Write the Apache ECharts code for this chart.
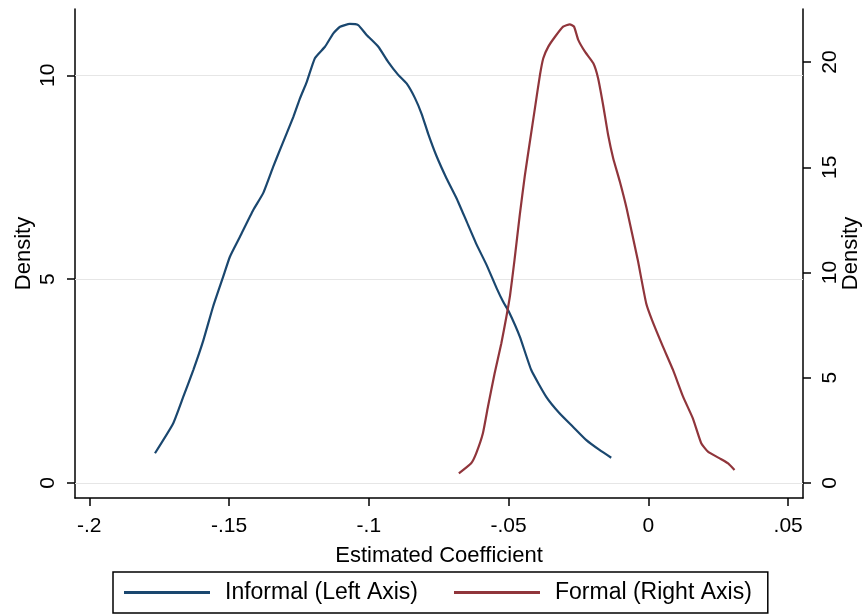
<!DOCTYPE html>
<html><head><meta charset="utf-8">
<script src="https://cdn.jsdelivr.net/npm/echarts@6/dist/echarts.min.js"></script>
<style>html,body{margin:0;padding:0;background:#fff}#c{width:866px;height:615px}</style>
</head><body><div id="c"></div>
<script>
const informalX = [-0.1765,-0.1700,-0.1664,-0.1628,-0.1592,-0.1557,-0.1521,-0.1497,-0.1461,-0.1413,-0.1378,-0.1342,-0.1318,-0.1270,-0.1246,-0.1222,-0.1193,-0.1157,-0.1127,-0.1103,-0.1068,-0.1038,-0.1008,-0.0966,-0.0931,-0.0895,-0.0865,-0.0835,-0.0811,-0.0788,-0.0758,-0.0722,-0.0686,-0.0650,-0.0614,-0.0579,-0.0543,-0.0520,-0.0499,-0.0460,-0.0419,-0.0366,-0.0318,-0.0270,-0.0222,-0.0175,-0.0133];
const informalY = [0.73,1.46,2.11,2.77,3.50,4.33,5.06,5.55,6.04,6.70,7.11,7.76,8.17,8.98,9.44,9.84,10.42,10.70,11.03,11.19,11.26,11.23,10.99,10.70,10.33,10.01,9.80,9.44,9.05,8.57,8.02,7.47,6.98,6.41,5.84,5.35,4.78,4.45,4.20,3.59,2.77,2.12,1.71,1.38,1.05,0.81,0.62];
const formalX = [-0.0678,-0.0634,-0.0616,-0.0592,-0.0574,-0.0550,-0.0526,-0.0508,-0.0495,-0.0479,-0.0460,-0.0442,-0.0424,-0.0406,-0.0388,-0.0376,-0.0358,-0.0334,-0.0305,-0.0281,-0.0266,-0.0251,-0.0227,-0.0197,-0.0180,-0.0162,-0.0144,-0.0126,-0.0102,-0.0078,-0.0038,-0.0008,0.0013,0.0052,0.0088,0.0124,0.0159,0.0189,0.0213,0.0255,0.0284,0.0308];
const formalY = [0.46,0.94,1.41,2.36,3.62,5.21,6.64,7.90,8.90,10.59,12.75,14.60,16.21,17.80,19.38,20.18,20.73,21.20,21.68,21.79,21.68,21.05,20.49,19.94,19.23,17.96,16.53,15.43,14.31,13.05,10.59,8.54,7.74,6.48,5.37,4.10,3.07,1.89,1.49,1.17,0.94,0.62];
const xTickValues = [-0.2,-0.15,-0.1,-0.05,0,0.05];
const xTickLabels = ['-.2','-.15','-.1','-.05','0','.05'];
const leftTickValues = [0,5,10];
const rightTickValues = [0,5,10,15,20];
const seriesNames = ['Informal (Left Axis)','Formal (Right Axis)'];
const xTitle = 'Estimated Coefficient';
const yTitle = 'Density';

const FONT = '"Liberation Sans", Arial, sans-serif';
const pairs = (xs, ys) => xs.map((x, i) => [x, ys[i]]);
const chart = echarts.init(document.getElementById('c'), null, {renderer: 'canvas'});
const axisLineStyle = {color: '#000', width: 1.5};
chart.setOption({
  backgroundColor: '#fff',
  animation: false,
  textStyle: {fontFamily: FONT},
  grid: {left: 75, right: 63, top: 9, bottom: 117, containLabel: false, outerBoundsMode: 'none'},
  xAxis: {
    type: 'value', min: -0.20511, max: 0.05530,
    name: xTitle, nameLocation: 'middle', nameGap: 47, nameMoveOverlap: false,
    nameTextStyle: {fontSize: 22, color: '#000', fontFamily: FONT},
    axisLine: {show: true, onZero: false, lineStyle: axisLineStyle},
    axisTick: {show: true, length: 8, customValues: xTickValues, lineStyle: {color: '#000', width: 1.5}},
    axisLabel: {customValues: xTickValues, margin: 18, fontSize: 21, color: '#000', fontFamily: FONT,
      formatter: v => { const i = xTickValues.findIndex(t => Math.abs(t - v) < 1e-9); return i >= 0 ? xTickLabels[i] : ''; }},
    splitLine: {show: false}
  },
  yAxis: [{
    type: 'value', position: 'left', min: -0.368, max: 11.626,
    name: yTitle, nameLocation: 'middle', nameGap: 40, nameMoveOverlap: false,
    nameTextStyle: {fontSize: 22, color: '#000', fontFamily: FONT},
    axisLine: {show: true, onZero: false, lineStyle: axisLineStyle},
    axisTick: {show: true, length: 8, customValues: leftTickValues, lineStyle: {color: '#000', width: 1.5}},
    axisLabel: {customValues: leftTickValues, rotate: 90, margin: 16, fontSize: 21, color: '#000', fontFamily: FONT},
    splitLine: {show: false}
  }, {
    type: 'value', position: 'right', min: -0.7126, max: 22.518,
    name: yTitle, nameLocation: 'middle', nameGap: 37, nameMoveOverlap: false,
    nameTextStyle: {fontSize: 22, color: '#000', fontFamily: FONT},
    axisLine: {show: true, onZero: false, lineStyle: axisLineStyle},
    axisTick: {show: true, length: 8, customValues: rightTickValues, lineStyle: {color: '#000', width: 1.5}},
    axisLabel: {customValues: rightTickValues, rotate: 90, margin: 17, fontSize: 21, color: '#000', fontFamily: FONT},
    splitLine: {show: false}
  }],
  legend: {
    left: 113, top: 572, orient: 'horizontal',
    data: seriesNames,
    icon: 'rect',
    itemWidth: 86, itemHeight: 3, itemGap: 36,
    padding: [9, 16, 9, 11],
    borderColor: '#000', borderWidth: 1.5, borderRadius: 0,
    textStyle: {fontSize: 23, color: '#000', fontFamily: FONT, padding: [0, 0, 0, 10], lineHeight: 23},
    selectedMode: false
  },
  series: [{
    name: seriesNames[0], type: 'line', yAxisIndex: 0, xAxisIndex: 0,
    data: pairs(informalX, informalY), symbol: 'none', showSymbol: false, smooth: 0.15,
    lineStyle: {color: '#1a476f', width: 2.2}, itemStyle: {color: '#1a476f'}, z: 3,
    markLine: {
      silent: true, symbol: 'none', z: 1, animation: false,
      label: {show: false},
      lineStyle: {color: '#e6e6e6', width: 1.2, type: 'solid'},
      data: leftTickValues.map(v => ({yAxis: v}))
    }
  }, {
    name: seriesNames[1], type: 'line', yAxisIndex: 1, xAxisIndex: 0,
    data: pairs(formalX, formalY), symbol: 'none', showSymbol: false, smooth: 0.15,
    lineStyle: {color: '#90353b', width: 2.2}, itemStyle: {color: '#90353b'}, z: 3
  }]
});
</script>
</body></html>
